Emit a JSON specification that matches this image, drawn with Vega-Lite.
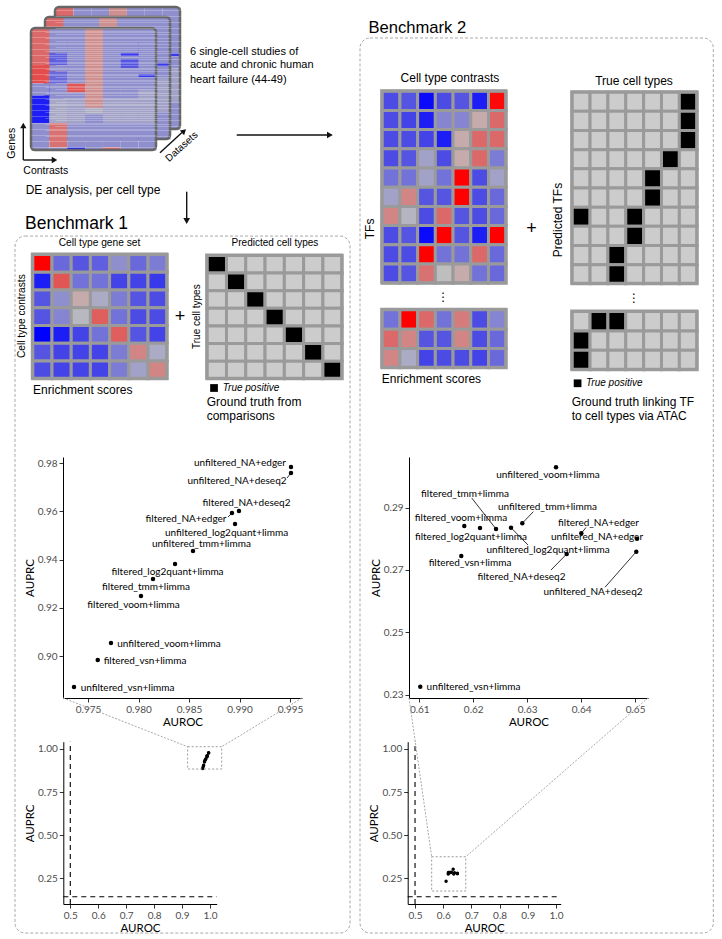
{
  "$schema": "https://vega.github.io/schema/vega-lite/v6.json",
  "width": 722,
  "height": 939,
  "padding": 0,
  "autosize": {"type": "none"},
  "background": "white",
  "config": {
    "view": {"stroke": null},
    "text": {"font": "Liberation Sans", "fontSize": 11, "color": "#000", "baseline": "middle", "align": "center"},
    "axis": {"grid": false, "labelFont": "Lato", "labelFontSize": 10, "labelColor": "#4d4d4d", "titleFont": "Lato", "titleFontSize": 11.5, "titleFontWeight": "normal", "titleColor": "#000", "domainColor": "#000", "domainWidth": 1, "tickColor": "#333", "tickSize": 4, "labelFlush": false, "labelOverlap": false, "labelPadding": 2}
  },
  "datasets": {
    "illus": [
      {"c": 0, "r0": [0, 12, 18, 22, 31], "r1": [12, 18, 22, 31, 40], "v": [0.45, 0.6, -0.25, -0.85, -0.25]},
      {"c": 1, "r0": [0, 8, 12, 14, 18, 23, 31, 39], "r1": [8, 12, 14, 18, 23, 31, 39, 40], "v": [-0.25, -0.5, -0.25, -0.45, -0.25, -0.12, 0.4, -0.25]},
      {"c": 2, "r0": [0, 18, 21, 23, 31, 39], "r1": [18, 21, 23, 31, 39, 40], "v": [-0.25, 0.55, -0.25, -0.15, -0.25, -0.85]},
      {"c": 3, "r0": [0, 26, 28], "r1": [26, 28, 40], "v": [0.25, -0.08, -0.25]},
      {"c": 4, "r0": [0, 23, 31, 39], "r1": [23, 31, 39, 40], "v": [-0.25, -0.15, -0.25, 0.45]},
      {"c": 5, "r0": [0, 8, 9, 10, 13, 23, 31], "r1": [8, 9, 10, 13, 23, 31, 40], "v": [-0.25, -0.7, -0.25, -0.55, -0.25, -0.15, -0.25]},
      {"c": 6, "r0": [0, 15, 16, 20, 31], "r1": [15, 16, 20, 31, 40], "v": [-0.25, -0.7, -0.25, -0.15, -0.25]}
    ],
    "b1": [
      {"r": 0, "c": [0, 1, 2, 3, 4, 5, 6], "v": [1.0, -0.45, -0.55, -0.5, -0.25, -0.45, -0.35]},
      {"r": 1, "c": [0, 1, 2, 3, 4, 5, 6], "v": [-0.85, 0.55, -0.4, -0.4, -0.65, -0.65, -0.7]},
      {"r": 2, "c": [0, 1, 2, 3, 4, 5, 6], "v": [-0.55, -0.25, 0.1, -0.1, -0.35, -0.55, -0.6]},
      {"r": 3, "c": [0, 1, 2, 3, 4, 5, 6], "v": [-0.55, -0.3, -0.03, 0.5, -0.4, -0.6, -0.6]},
      {"r": 4, "c": [0, 1, 2, 3, 4, 5, 6], "v": [-1.0, -0.85, -0.65, -0.4, 0.5, -0.55, -0.65]},
      {"r": 5, "c": [0, 1, 2, 3, 4, 5, 6], "v": [-0.55, -0.65, -0.65, -0.65, -0.35, 0.3, -0.1]},
      {"r": 6, "c": [0, 1, 2, 3, 4, 5, 6], "v": [-0.6, -0.65, -0.65, -0.65, -0.35, -0.15, 0.3]}
    ],
    "b1g": [
      {"r": 0, "c": [0, 1, 2, 3, 4, 5, 6], "t": [1, 0, 0, 0, 0, 0, 0]},
      {"r": 1, "c": [0, 1, 2, 3, 4, 5, 6], "t": [0, 1, 0, 0, 0, 0, 0]},
      {"r": 2, "c": [0, 1, 2, 3, 4, 5, 6], "t": [0, 0, 1, 0, 0, 0, 0]},
      {"r": 3, "c": [0, 1, 2, 3, 4, 5, 6], "t": [0, 0, 0, 1, 0, 0, 0]},
      {"r": 4, "c": [0, 1, 2, 3, 4, 5, 6], "t": [0, 0, 0, 0, 1, 0, 0]},
      {"r": 5, "c": [0, 1, 2, 3, 4, 5, 6], "t": [0, 0, 0, 0, 0, 1, 0]},
      {"r": 6, "c": [0, 1, 2, 3, 4, 5, 6], "t": [0, 0, 0, 0, 0, 0, 1]}
    ],
    "b2": [
      {"r": 0, "c": [0, 1, 2, 3, 4, 5, 6], "v": [-0.6, -0.55, -0.95, -0.6, -0.55, -0.85, 0.95]},
      {"r": 1, "c": [0, 1, 2, 3, 4, 5, 6], "v": [-0.6, -0.65, -0.85, -0.3, -0.3, 0.1, 0.45]},
      {"r": 2, "c": [0, 1, 2, 3, 4, 5, 6], "v": [-0.6, -0.6, -0.65, -0.85, 0.1, 0.45, 0.45]},
      {"r": 3, "c": [0, 1, 2, 3, 4, 5, 6], "v": [-0.6, -0.55, -0.15, -0.6, 0.1, 0.45, -0.35]},
      {"r": 4, "c": [0, 1, 2, 3, 4, 5, 6], "v": [-0.4, -0.4, -0.15, -0.4, 1.0, -0.6, -0.15]},
      {"r": 5, "c": [0, 1, 2, 3, 4, 5, 6], "v": [-0.15, 0.3, -0.55, -0.55, 1.0, -0.6, -0.45]},
      {"r": 6, "c": [0, 1, 2, 3, 4, 5, 6], "v": [0.3, -0.05, -0.6, 0.45, -0.55, -0.6, -0.45]},
      {"r": 7, "c": [0, 1, 2, 3, 4, 5, 6], "v": [-0.6, -0.55, -0.95, 1.0, -0.55, -0.85, 1.0]},
      {"r": 8, "c": [0, 1, 2, 3, 4, 5, 6], "v": [-0.6, -0.6, 1.0, -0.4, -0.4, 0.45, -0.45]},
      {"r": 9, "c": [0, 1, 2, 3, 4, 5, 6], "v": [-0.6, -0.55, 0.4, 0.0, 0.1, -0.4, -0.45]}
    ],
    "b2l": [
      {"r": 0, "c": [0, 1, 2, 3, 4, 5, 6], "v": [-0.4, 1.0, 0.45, -0.4, 0.35, -0.6, -0.3]},
      {"r": 1, "c": [0, 1, 2, 3, 4, 5, 6], "v": [0.45, 0.3, -0.55, -0.55, 0.3, -0.6, -0.45]},
      {"r": 2, "c": [0, 1, 2, 3, 4, 5, 6], "v": [0.3, -0.1, -0.65, -0.6, -0.6, -0.65, -0.45]}
    ],
    "b2g": [
      {"r": 0, "c": [0, 1, 2, 3, 4, 5, 6], "t": [0, 0, 0, 0, 0, 0, 1]},
      {"r": 1, "c": [0, 1, 2, 3, 4, 5, 6], "t": [0, 0, 0, 0, 0, 0, 1]},
      {"r": 2, "c": [0, 1, 2, 3, 4, 5, 6], "t": [0, 0, 0, 0, 0, 0, 1]},
      {"r": 3, "c": [0, 1, 2, 3, 4, 5, 6], "t": [0, 0, 0, 0, 0, 1, 0]},
      {"r": 4, "c": [0, 1, 2, 3, 4, 5, 6], "t": [0, 0, 0, 0, 1, 0, 0]},
      {"r": 5, "c": [0, 1, 2, 3, 4, 5, 6], "t": [0, 0, 0, 0, 1, 0, 0]},
      {"r": 6, "c": [0, 1, 2, 3, 4, 5, 6], "t": [1, 0, 0, 1, 0, 0, 0]},
      {"r": 7, "c": [0, 1, 2, 3, 4, 5, 6], "t": [0, 0, 0, 1, 0, 0, 0]},
      {"r": 8, "c": [0, 1, 2, 3, 4, 5, 6], "t": [0, 0, 1, 0, 0, 0, 0]},
      {"r": 9, "c": [0, 1, 2, 3, 4, 5, 6], "t": [0, 0, 1, 0, 0, 0, 0]}
    ],
    "b2lg": [
      {"r": 0, "c": [0, 1, 2, 3, 4, 5, 6], "t": [0, 1, 1, 0, 0, 0, 0]},
      {"r": 1, "c": [0, 1, 2, 3, 4, 5, 6], "t": [1, 0, 0, 0, 0, 0, 0]},
      {"r": 2, "c": [0, 1, 2, 3, 4, 5, 6], "t": [1, 0, 0, 0, 0, 0, 0]}
    ],
    "s1": [
      {"n": "unfiltered_NA+edger", "x": 0.99509, "y": 0.97835, "lx": 0.99004, "ly": 0.9800},
      {"n": "unfiltered_NA+deseq2", "x": 0.99509, "y": 0.97587, "lx": 0.98975, "ly": 0.9725, "sx": 0.9947, "sy": 0.9738},
      {"n": "filtered_NA+deseq2", "x": 0.98994, "y": 0.96011, "lx": 0.99069, "ly": 0.9634},
      {"n": "filtered_NA+edger", "x": 0.98925, "y": 0.95928, "lx": 0.98470, "ly": 0.9568, "sx": 0.98886, "sy": 0.95763},
      {"n": "unfiltered_log2quant+limma", "x": 0.98955, "y": 0.95472, "lx": 0.98871, "ly": 0.9512},
      {"n": "unfiltered_tmm+limma", "x": 0.98539, "y": 0.94353, "lx": 0.98623, "ly": 0.9465},
      {"n": "filtered_log2quant+limma", "x": 0.98361, "y": 0.93814, "lx": 0.98287, "ly": 0.9348},
      {"n": "filtered_tmm+limma", "x": 0.98143, "y": 0.93193, "lx": 0.98074, "ly": 0.9286},
      {"n": "filtered_voom+limma", "x": 0.98024, "y": 0.92488, "lx": 0.97950, "ly": 0.9211},
      {"n": "unfiltered_voom+limma", "x": 0.97727, "y": 0.90540, "lx": 0.98301, "ly": 0.9050},
      {"n": "filtered_vsn+limma", "x": 0.97596, "y": 0.89835, "lx": 0.98064, "ly": 0.8979},
      {"n": "unfiltered_vsn+limma", "x": 0.97361, "y": 0.88716, "lx": 0.97891, "ly": 0.8867}
    ],
    "s2": [
      {"n": "unfiltered_voom+limma", "x": 0.63535, "y": 0.30290, "lx": 0.63387, "ly": 0.30033},
      {"n": "filtered_tmm+limma", "x": 0.62423, "y": 0.28311, "lx": 0.61848, "ly": 0.29433, "sx": 0.61972, "sy": 0.29305},
      {"n": "unfiltered_tmm+limma", "x": 0.62910, "y": 0.28494, "lx": 0.63377, "ly": 0.29026, "sx": 0.63114, "sy": 0.28866},
      {"n": "filtered_voom+limma", "x": 0.61835, "y": 0.28407, "lx": 0.61774, "ly": 0.28673},
      {"n": "filtered_NA+edger", "x": 0.64004, "y": 0.28173, "lx": 0.64323, "ly": 0.28503, "sx": 0.64091, "sy": 0.28359},
      {"n": "filtered_log2quant+limma", "x": 0.62126, "y": 0.28343, "lx": 0.61959, "ly": 0.28064},
      {"n": "unfiltered_NA+edger", "x": 0.65036, "y": 0.28000, "lx": 0.64295, "ly": 0.28054},
      {"n": "unfiltered_log2quant+limma", "x": 0.62701, "y": 0.28352, "lx": 0.63387, "ly": 0.27637, "sx": 0.63016, "sy": 0.27797},
      {"n": "filtered_vsn+limma", "x": 0.61779, "y": 0.27445, "lx": 0.61941, "ly": 0.27220},
      {"n": "filtered_NA+deseq2", "x": 0.63733, "y": 0.27509, "lx": 0.62895, "ly": 0.26781, "sx": 0.63442, "sy": 0.26995},
      {"n": "unfiltered_NA+deseq2", "x": 0.65023, "y": 0.27583, "lx": 0.64221, "ly": 0.26280, "sx": 0.64443, "sy": 0.26441},
      {"n": "unfiltered_vsn+limma", "x": 0.61019, "y": 0.23252, "lx": 0.62006, "ly": 0.23227}
    ]
  },
  "resolve": {"scale": {"x": "independent", "y": "independent"}},
  "layer": [
    {
      "data": {"values": [{}]},
      "layer": [
        {"data": {"name": "illus"}, "transform": [{"flatten": ["r0", "r1", "v"]}],
         "mark": {"type": "rect", "binSpacing": 0},
         "encoding": {
           "x": {"field": "c", "type": "quantitative", "bin": {"binned": true, "step": 1}, "scale": {"domain": [0, 7], "range": [55, 180], "nice": false, "zero": false}, "axis": null},
           "y": {"field": "r0", "type": "quantitative", "bin": {"binned": true}, "scale": {"domain": [0, 40], "range": [7, 129], "nice": false, "zero": false},
                 "axis": {"orient": "left", "values": [1, 2, 3, 4, 5, 6, 7, 8, 9, 10, 11, 12, 13, 14, 15, 16, 17, 18, 19, 20, 21, 22, 23, 24, 25, 26, 27, 28, 29, 30, 31, 32, 33, 34, 35, 36, 37, 38, 39], "labels": false, "ticks": false, "domain": false, "grid": true, "gridColor": "#ffffff", "gridOpacity": 0.3, "gridWidth": 0.8, "zindex": 1, "title": null}},
           "y2": {"field": "r1"},
           "fill": {"field": "v", "type": "quantitative", "scale": {"domain": [-1, 0, 1], "range": ["#0000ff", "#bebebe", "#ff0000"], "interpolate": "rgb"}, "legend": null}
         }},
        {"mark": {"type": "rect", "fillOpacity": 0, "stroke": "#666666", "strokeWidth": 2.5, "cornerRadius": 4},
         "encoding": {"x": {"datum": 0, "axis": null}, "x2": {"datum": 7}, "y": {"datum": 0}, "y2": {"datum": 40}}}
      ]
    },
    {
      "data": {"values": [{}]},
      "layer": [
        {"data": {"name": "illus"}, "transform": [{"flatten": ["r0", "r1", "v"]}],
         "mark": {"type": "rect", "binSpacing": 0},
         "encoding": {
           "x": {"field": "c", "type": "quantitative", "bin": {"binned": true, "step": 1}, "scale": {"domain": [0, 7], "range": [45, 170], "nice": false, "zero": false}, "axis": null},
           "y": {"field": "r0", "type": "quantitative", "bin": {"binned": true}, "scale": {"domain": [0, 40], "range": [17, 139], "nice": false, "zero": false},
                 "axis": {"orient": "left", "values": [1, 2, 3, 4, 5, 6, 7, 8, 9, 10, 11, 12, 13, 14, 15, 16, 17, 18, 19, 20, 21, 22, 23, 24, 25, 26, 27, 28, 29, 30, 31, 32, 33, 34, 35, 36, 37, 38, 39], "labels": false, "ticks": false, "domain": false, "grid": true, "gridColor": "#ffffff", "gridOpacity": 0.3, "gridWidth": 0.8, "zindex": 1, "title": null}},
           "y2": {"field": "r1"},
           "fill": {"field": "v", "type": "quantitative", "scale": {"domain": [-1, 0, 1], "range": ["#0000ff", "#bebebe", "#ff0000"], "interpolate": "rgb"}, "legend": null}
         }},
        {"mark": {"type": "rect", "fillOpacity": 0, "stroke": "#666666", "strokeWidth": 2.5, "cornerRadius": 4},
         "encoding": {"x": {"datum": 0, "axis": null}, "x2": {"datum": 7}, "y": {"datum": 0}, "y2": {"datum": 40}}}
      ]
    },
    {
      "data": {"values": [{}]},
      "layer": [
        {"data": {"name": "illus"}, "transform": [{"flatten": ["r0", "r1", "v"]}],
         "mark": {"type": "rect", "binSpacing": 0},
         "encoding": {
           "x": {"field": "c", "type": "quantitative", "bin": {"binned": true, "step": 1}, "scale": {"domain": [0, 7], "range": [31, 156], "nice": false, "zero": false}, "axis": null},
           "y": {"field": "r0", "type": "quantitative", "bin": {"binned": true}, "scale": {"domain": [0, 40], "range": [28, 150], "nice": false, "zero": false},
                 "axis": {"orient": "left", "values": [1, 2, 3, 4, 5, 6, 7, 8, 9, 10, 11, 12, 13, 14, 15, 16, 17, 18, 19, 20, 21, 22, 23, 24, 25, 26, 27, 28, 29, 30, 31, 32, 33, 34, 35, 36, 37, 38, 39], "labels": false, "ticks": false, "domain": false, "grid": true, "gridColor": "#ffffff", "gridOpacity": 0.3, "gridWidth": 0.8, "zindex": 1, "title": null}},
           "y2": {"field": "r1"},
           "fill": {"field": "v", "type": "quantitative", "scale": {"domain": [-1, 0, 1], "range": ["#0000ff", "#bebebe", "#ff0000"], "interpolate": "rgb"}, "legend": null}
         }},
        {"mark": {"type": "rect", "fillOpacity": 0, "stroke": "#666666", "strokeWidth": 2.5, "cornerRadius": 4},
         "encoding": {"x": {"datum": 0, "axis": null}, "x2": {"datum": 7}, "y": {"datum": 0}, "y2": {"datum": 40}}},
        {"mark": {"type": "text", "align": "left", "fontSize": 11},
         "encoding": {"x": {"datum": 8.904, "axis": null}, "y": {"datum": 7.77}, "text": {"value": "6 single-cell studies of"}}},
        {"mark": {"type": "text", "align": "left", "fontSize": 11},
         "encoding": {"x": {"datum": 8.904, "axis": null}, "y": {"datum": 12.13}, "text": {"value": "acute and chronic human"}}},
        {"mark": {"type": "text", "align": "left", "fontSize": 11},
         "encoding": {"x": {"datum": 8.904, "axis": null}, "y": {"datum": 17.05}, "text": {"value": "heart failure (44-49)"}}},
        {"mark": {"type": "text", "align": "left", "fontSize": 12},
         "encoding": {"x": {"datum": -0.297, "axis": null}, "y": {"datum": 53.11}, "text": {"value": "DE analysis, per cell type"}}},
        {"mark": {"type": "text", "fontSize": 10.5, "angle": 270},
         "encoding": {"x": {"datum": -1.081, "axis": null}, "y": {"datum": 37.8}, "text": {"value": "Genes"}}},
        {"mark": {"type": "text", "align": "left", "fontSize": 10.5},
         "encoding": {"x": {"datum": -0.431, "axis": null}, "y": {"datum": 46.79}, "text": {"value": "Contrasts"}}},
        {"mark": {"type": "text", "fontSize": 10, "angle": 318},
         "encoding": {"x": {"datum": 8.439, "axis": null}, "y": {"datum": 38.92}, "text": {"value": "Datasets"}}},
        {"mark": {"type": "rule", "color": "#111", "strokeWidth": 1.4},
         "encoding": {"x": {"datum": -0.431, "axis": null}, "y": {"datum": 43.28}, "y2": {"datum": 32.46}}},
        {"mark": {"type": "rule", "color": "#111", "strokeWidth": 1.4},
         "encoding": {"x": {"datum": -0.431, "axis": null}, "x2": {"datum": 1.232}, "y": {"datum": 43.28}}},
        {"mark": {"type": "rule", "color": "#111", "strokeWidth": 1.4},
         "encoding": {"x": {"datum": 7.224, "axis": null}, "x2": {"datum": 8.456}, "y": {"datum": 40.89}, "y2": {"datum": 34.26}}},
        {"mark": {"type": "rule", "color": "#111", "strokeWidth": 1.4},
         "encoding": {"x": {"datum": 11.52, "axis": null}, "x2": {"datum": 16.63}, "y": {"datum": 35.08}}},
        {"mark": {"type": "rule", "color": "#111", "strokeWidth": 1.4},
         "encoding": {"x": {"datum": 8.719, "axis": null}, "y": {"datum": 53.67}, "y2": {"datum": 62.62}}},
        {"mark": {"type": "point", "shape": "triangle-up", "filled": true, "size": 40, "color": "#111", "opacity": 1},
         "encoding": {"x": {"datum": -0.431, "axis": null}, "y": {"datum": 31.97}}},
        {"mark": {"type": "point", "shape": "triangle-right", "filled": true, "size": 40, "color": "#111", "opacity": 1},
         "encoding": {"x": {"datum": 1.316, "axis": null}, "y": {"datum": 43.28}}},
        {"mark": {"type": "point", "shape": "triangle-up", "filled": true, "size": 40, "color": "#111", "opacity": 1, "angle": 48},
         "encoding": {"x": {"datum": 8.568, "axis": null}, "y": {"datum": 33.77}}},
        {"mark": {"type": "point", "shape": "triangle-right", "filled": true, "size": 45, "color": "#111", "opacity": 1},
         "encoding": {"x": {"datum": 16.74, "axis": null}, "y": {"datum": 35.08}}},
        {"mark": {"type": "point", "shape": "triangle-down", "filled": true, "size": 45, "color": "#111", "opacity": 1},
         "encoding": {"x": {"datum": 8.719, "axis": null}, "y": {"datum": 63.28}}}
      ]
    },
    {
      "data": {"values": [{}]},
      "layer": [
        {"data": {"name": "b1"}, "transform": [{"flatten": ["c", "v"]}],
         "mark": {"type": "rect", "stroke": "#9a9a9a", "strokeWidth": 3, "binSpacing": 0},
         "encoding": {
           "x": {"field": "c", "type": "quantitative", "bin": {"binned": true, "step": 1}, "scale": {"domain": [0, 7], "range": [32.3, 166.7], "nice": false, "zero": false}, "axis": null},
           "y": {"field": "r", "type": "quantitative", "bin": {"binned": true, "step": 1}, "scale": {"domain": [0, 7], "range": [254, 378.3], "nice": false, "zero": false}, "axis": null},
           "fill": {"field": "v", "type": "quantitative", "scale": {"domain": [-1, 0, 1], "range": ["#0000ff", "#bebebe", "#ff0000"], "interpolate": "rgb"}, "legend": null}
         }},
        {"mark": {"type": "rect", "fillOpacity": 0, "stroke": "#9a9a9a", "strokeWidth": 3},
         "encoding": {"x": {"datum": 0, "axis": null}, "x2": {"datum": 7}, "y": {"datum": 0, "axis": null}, "y2": {"datum": 7}}},
        {"mark": {"type": "rect", "fillOpacity": 0, "stroke": "#a8a8a8", "strokeWidth": 1, "strokeDash": [3, 2], "cornerRadius": 10},
         "encoding": {"x": {"datum": -0.9, "axis": null}, "x2": {"datum": 16.55}, "y": {"datum": -1.01, "axis": null}, "y2": {"datum": 38.24}}},
        {"mark": {"type": "text", "fontSize": 10.2},
         "encoding": {"x": {"datum": 3.5, "axis": null}, "y": {"datum": -0.6, "axis": null}, "text": {"value": "Cell type gene set"}}},
        {"mark": {"type": "text", "fontSize": 10.2, "angle": 270},
         "encoding": {"x": {"datum": -0.56, "axis": null}, "y": {"datum": 3.5, "axis": null}, "text": {"value": "Cell type contrasts"}}},
        {"mark": {"type": "text", "fontSize": 12, "align": "left"},
         "encoding": {"x": {"datum": 0.04, "axis": null}, "y": {"datum": 7.66, "axis": null}, "text": {"value": "Enrichment scores"}}},
        {"mark": {"type": "text", "fontSize": 17.5, "align": "left"},
         "encoding": {"x": {"datum": -0.38, "axis": null}, "y": {"datum": -1.69, "axis": null}, "text": {"value": "Benchmark 1"}}},
        {"mark": {"type": "text", "fontSize": 18},
         "encoding": {"x": {"datum": 7.69, "axis": null}, "y": {"datum": 3.57, "axis": null}, "text": {"value": "+"}}}
      ]
    },
    {
      "data": {"values": [{}]},
      "layer": [
        {"data": {"name": "b1g"}, "transform": [{"flatten": ["c", "t"]}],
         "mark": {"type": "rect", "stroke": "#9a9a9a", "strokeWidth": 3, "binSpacing": 0},
         "encoding": {
           "x": {"field": "c", "type": "quantitative", "bin": {"binned": true, "step": 1}, "scale": {"domain": [0, 7], "range": [206.7, 341.7], "nice": false, "zero": false}, "axis": null},
           "y": {"field": "r", "type": "quantitative", "bin": {"binned": true, "step": 1}, "scale": {"domain": [0, 7], "range": [255, 378.3], "nice": false, "zero": false}, "axis": null},
           "fill": {"condition": {"test": "datum.t == 1", "value": "#000000"}, "value": "#cccccc"}
         }},
        {"mark": {"type": "rect", "fillOpacity": 0, "stroke": "#9a9a9a", "strokeWidth": 3},
         "encoding": {"x": {"datum": 0, "axis": null}, "x2": {"datum": 7}, "y": {"datum": 0, "axis": null}, "y2": {"datum": 7}}},
        {"mark": {"type": "text", "fontSize": 10},
         "encoding": {"x": {"datum": 3.54, "axis": null}, "y": {"datum": -0.68, "axis": null}, "text": {"value": "Predicted cell types"}}},
        {"mark": {"type": "text", "fontSize": 10, "angle": 270},
         "encoding": {"x": {"datum": -0.52, "axis": null}, "y": {"datum": 3.5, "axis": null}, "text": {"value": "True cell types"}}},
        {"mark": {"type": "point", "shape": "square", "filled": true, "size": 60, "color": "#000", "opacity": 1},
         "encoding": {"x": {"datum": 0.38, "axis": null}, "y": {"datum": 7.55, "axis": null}}},
        {"mark": {"type": "text", "fontSize": 10, "fontStyle": "italic", "align": "left"},
         "encoding": {"x": {"datum": 0.83, "axis": null}, "y": {"datum": 7.55, "axis": null}, "text": {"value": "True positive"}}},
        {"mark": {"type": "text", "fontSize": 12, "align": "left"},
         "encoding": {"x": {"datum": 0, "axis": null}, "y": {"datum": 8.33, "axis": null}, "text": {"value": "Ground truth from"}}},
        {"mark": {"type": "text", "fontSize": 12, "align": "left"},
         "encoding": {"x": {"datum": 0, "axis": null}, "y": {"datum": 9.14, "axis": null}, "text": {"value": "comparisons"}}}
      ]
    },
    {
      "data": {"values": [{}]},
      "layer": [
        {"data": {"name": "b2"}, "transform": [{"flatten": ["c", "v"]}],
         "mark": {"type": "rect", "stroke": "#9a9a9a", "strokeWidth": 3, "binSpacing": 0},
         "encoding": {
           "x": {"field": "c", "type": "quantitative", "bin": {"binned": true, "step": 1}, "scale": {"domain": [0, 7], "range": [381.7, 505.7], "nice": false, "zero": false}, "axis": null},
           "y": {"field": "r", "type": "quantitative", "bin": {"binned": true, "step": 1}, "scale": {"domain": [0, 10], "range": [90.7, 282.7], "nice": false, "zero": false}, "axis": null},
           "fill": {"field": "v", "type": "quantitative", "scale": {"domain": [-1, 0, 1], "range": ["#0000ff", "#bebebe", "#ff0000"], "interpolate": "rgb"}, "legend": null}
         }},
        {"mark": {"type": "rect", "fillOpacity": 0, "stroke": "#9a9a9a", "strokeWidth": 3},
         "encoding": {"x": {"datum": 0, "axis": null}, "x2": {"datum": 7}, "y": {"datum": 0, "axis": null}, "y2": {"datum": 10}}},
        {"mark": {"type": "rect", "fillOpacity": 0, "stroke": "#a8a8a8", "strokeWidth": 1, "strokeDash": [3, 2], "cornerRadius": 10},
         "encoding": {"x": {"datum": -1.225, "axis": null}, "x2": {"datum": 18.72}, "y": {"datum": -2.745, "axis": null}, "y2": {"datum": 43.87}}},
        {"mark": {"type": "text", "fontSize": 12},
         "encoding": {"x": {"datum": 3.85, "axis": null}, "y": {"datum": -0.68, "axis": null}, "text": {"value": "Cell type contrasts"}}},
        {"mark": {"type": "text", "fontSize": 12, "angle": 270},
         "encoding": {"x": {"datum": -0.66, "axis": null}, "y": {"datum": 7.2, "axis": null}, "text": {"value": "TFs"}}},
        {"mark": {"type": "text", "fontSize": 12, "font": "DejaVu Sans"},
         "encoding": {"x": {"datum": 3.48, "axis": null}, "y": {"datum": 10.73, "axis": null}, "text": {"value": "⋮"}}},
        {"mark": {"type": "text", "fontSize": 16.6, "align": "left"},
         "encoding": {"x": {"datum": -0.751, "axis": null}, "y": {"datum": -3.25, "axis": null}, "text": {"value": "Benchmark 2"}}},
        {"mark": {"type": "text", "fontSize": 18},
         "encoding": {"x": {"datum": 8.46, "axis": null}, "y": {"datum": 7.22, "axis": null}, "text": {"value": "+"}}}
      ]
    },
    {
      "data": {"values": [{}]},
      "layer": [
        {"data": {"name": "b2l"}, "transform": [{"flatten": ["c", "v"]}],
         "mark": {"type": "rect", "stroke": "#9a9a9a", "strokeWidth": 3, "binSpacing": 0},
         "encoding": {
           "x": {"field": "c", "type": "quantitative", "bin": {"binned": true, "step": 1}, "scale": {"domain": [0, 7], "range": [381.7, 505.7], "nice": false, "zero": false}, "axis": null},
           "y": {"field": "r", "type": "quantitative", "bin": {"binned": true, "step": 1}, "scale": {"domain": [0, 3], "range": [309.3, 367.3], "nice": false, "zero": false}, "axis": null},
           "fill": {"field": "v", "type": "quantitative", "scale": {"domain": [-1, 0, 1], "range": ["#0000ff", "#bebebe", "#ff0000"], "interpolate": "rgb"}, "legend": null}
         }},
        {"mark": {"type": "rect", "fillOpacity": 0, "stroke": "#9a9a9a", "strokeWidth": 3},
         "encoding": {"x": {"datum": 0, "axis": null}, "x2": {"datum": 7}, "y": {"datum": 0, "axis": null}, "y2": {"datum": 3}}},
        {"mark": {"type": "text", "fontSize": 12, "align": "left"},
         "encoding": {"x": {"datum": 0, "axis": null}, "y": {"datum": 3.62, "axis": null}, "text": {"value": "Enrichment scores"}}}
      ]
    },
    {
      "data": {"values": [{}]},
      "layer": [
        {"data": {"name": "b2g"}, "transform": [{"flatten": ["c", "t"]}],
         "mark": {"type": "rect", "stroke": "#9a9a9a", "strokeWidth": 3, "binSpacing": 0},
         "encoding": {
           "x": {"field": "c", "type": "quantitative", "bin": {"binned": true, "step": 1}, "scale": {"domain": [0, 7], "range": [571.7, 696.7], "nice": false, "zero": false}, "axis": null},
           "y": {"field": "r", "type": "quantitative", "bin": {"binned": true, "step": 1}, "scale": {"domain": [0, 10], "range": [91.7, 283.3], "nice": false, "zero": false}, "axis": null},
           "fill": {"condition": {"test": "datum.t == 1", "value": "#000000"}, "value": "#cccccc"}
         }},
        {"mark": {"type": "rect", "fillOpacity": 0, "stroke": "#9a9a9a", "strokeWidth": 3},
         "encoding": {"x": {"datum": 0, "axis": null}, "x2": {"datum": 7}, "y": {"datum": 0, "axis": null}, "y2": {"datum": 10}}},
        {"mark": {"type": "text", "fontSize": 12},
         "encoding": {"x": {"datum": 3.49, "axis": null}, "y": {"datum": -0.56, "axis": null}, "text": {"value": "True cell types"}}},
        {"mark": {"type": "text", "fontSize": 12, "angle": 270},
         "encoding": {"x": {"datum": -0.77, "axis": null}, "y": {"datum": 6.7, "axis": null}, "text": {"value": "Predicted TFs"}}},
        {"mark": {"type": "text", "fontSize": 12, "font": "DejaVu Sans"},
         "encoding": {"x": {"datum": 3.49, "axis": null}, "y": {"datum": 10.77, "axis": null}, "text": {"value": "⋮"}}}
      ]
    },
    {
      "data": {"values": [{}]},
      "layer": [
        {"data": {"name": "b2lg"}, "transform": [{"flatten": ["c", "t"]}],
         "mark": {"type": "rect", "stroke": "#9a9a9a", "strokeWidth": 3, "binSpacing": 0},
         "encoding": {
           "x": {"field": "c", "type": "quantitative", "bin": {"binned": true, "step": 1}, "scale": {"domain": [0, 7], "range": [571.7, 696.7], "nice": false, "zero": false}, "axis": null},
           "y": {"field": "r", "type": "quantitative", "bin": {"binned": true, "step": 1}, "scale": {"domain": [0, 3], "range": [311, 369.3], "nice": false, "zero": false}, "axis": null},
           "fill": {"condition": {"test": "datum.t == 1", "value": "#000000"}, "value": "#cccccc"}
         }},
        {"mark": {"type": "rect", "fillOpacity": 0, "stroke": "#9a9a9a", "strokeWidth": 3},
         "encoding": {"x": {"datum": 0, "axis": null}, "x2": {"datum": 7}, "y": {"datum": 0, "axis": null}, "y2": {"datum": 3}}},
        {"mark": {"type": "point", "shape": "square", "filled": true, "size": 60, "color": "#000", "opacity": 1},
         "encoding": {"x": {"datum": 0.33, "axis": null}, "y": {"datum": 3.72, "axis": null}}},
        {"mark": {"type": "text", "fontSize": 10, "fontStyle": "italic", "align": "left"},
         "encoding": {"x": {"datum": 0.8, "axis": null}, "y": {"datum": 3.72, "axis": null}, "text": {"value": "True positive"}}},
        {"mark": {"type": "text", "fontSize": 12, "align": "left"},
         "encoding": {"x": {"datum": 0, "axis": null}, "y": {"datum": 4.67, "axis": null}, "text": {"value": "Ground truth linking TF"}}},
        {"mark": {"type": "text", "fontSize": 12, "align": "left"},
         "encoding": {"x": {"datum": 0, "axis": null}, "y": {"datum": 5.4, "axis": null}, "text": {"value": "to cell types via ATAC"}}}
      ]
    },
    {
      "data": {"name": "s1"},
      "layer": [
        {"transform": [{"filter": "isValid(datum.sx)"}],
         "mark": {"type": "rule", "color": "#000", "strokeWidth": 0.8},
         "encoding": {"x": {"field": "sx", "type": "quantitative"}, "y": {"field": "sy", "type": "quantitative"}, "x2": {"field": "x"}, "y2": {"field": "y"}}},
        {"mark": {"type": "circle", "size": 20, "color": "#000", "opacity": 1},
         "encoding": {
           "x": {"field": "x", "type": "quantitative", "scale": {"domain": [0.97252, 0.99618], "range": [63, 302], "nice": false, "zero": false},
                 "axis": {"orient": "bottom", "offset": -241, "values": [0.975, 0.98, 0.985, 0.99, 0.995], "format": ".3f", "title": "AUROC", "titlePadding": 2}},
           "y": {"field": "y", "type": "quantitative", "scale": {"domain": [0.8826, 0.9825], "range": [698, 457], "nice": false, "zero": false},
                 "axis": {"orient": "left", "offset": -63, "values": [0.9, 0.92, 0.94, 0.96, 0.98], "format": ".2f", "title": "AUPRC", "titlePadding": 2}}
         }},
        {"mark": {"type": "text", "font": "Lato", "fontSize": 10},
         "encoding": {"x": {"field": "lx", "type": "quantitative"}, "y": {"field": "ly", "type": "quantitative"}, "text": {"field": "n"}}}
      ]
    },
    {
      "data": {"values": [{}]},
      "layer": [
        {"mark": {"type": "rule", "color": "#000", "strokeWidth": 1.1, "strokeDash": [5, 4]},
         "encoding": {"x": {"datum": 0.5}, "y": {"datum": 0.101}, "y2": {"datum": 1.042}}},
        {"mark": {"type": "rule", "color": "#000", "strokeWidth": 1.1, "strokeDash": [5, 4]},
         "encoding": {"x": {"datum": 0.475}, "x2": {"datum": 1.024}, "y": {"datum": 0.1429}}},
        {"data": {"name": "s1"},
         "mark": {"type": "circle", "size": 12, "color": "#000", "opacity": 1},
         "encoding": {
           "x": {"field": "x", "type": "quantitative", "scale": {"domain": [0.475, 1.024], "range": [63.3, 216.7], "nice": false, "zero": false},
                 "axis": {"orient": "bottom", "offset": -35, "values": [0.5, 0.6, 0.7, 0.8, 0.9, 1.0], "format": ".1f", "title": "AUROC", "titlePadding": 2}},
           "y": {"field": "y", "type": "quantitative", "scale": {"domain": [0.101, 1.042], "range": [904, 741.7], "nice": false, "zero": false},
                 "axis": {"orient": "left", "offset": -63.3, "values": [0.25, 0.5, 0.75, 1.0], "format": ".2f", "title": "AUPRC", "titlePadding": 2}}
         }},
        {"mark": {"type": "rect", "fillOpacity": 0, "stroke": "#9a9a9a", "strokeWidth": 1, "strokeDash": [2, 2]},
         "encoding": {"x": {"datum": 0.92}, "x2": {"datum": 1.042}, "y": {"datum": 0.8835}, "y2": {"datum": 1.013}}},
        {"mark": {"type": "rule", "color": "#a8a8a8", "strokeWidth": 1, "strokeDash": [2, 1.5]},
         "encoding": {"x": {"datum": 0.4739}, "x2": {"datum": 0.92}, "y": {"datum": 1.2958}, "y2": {"datum": 1.013}}},
        {"mark": {"type": "rule", "color": "#a8a8a8", "strokeWidth": 1, "strokeDash": [2, 1.5]},
         "encoding": {"x": {"datum": 1.3293}, "x2": {"datum": 1.042}, "y": {"datum": 1.2958}, "y2": {"datum": 1.013}}}
      ]
    },
    {
      "data": {"name": "s2"},
      "layer": [
        {"transform": [{"filter": "isValid(datum.sx)"}],
         "mark": {"type": "rule", "color": "#000", "strokeWidth": 0.8},
         "encoding": {"x": {"field": "sx", "type": "quantitative"}, "y": {"field": "sy", "type": "quantitative"}, "x2": {"field": "x"}, "y2": {"field": "y"}}},
        {"mark": {"type": "circle", "size": 20, "color": "#000", "opacity": 1},
         "encoding": {
           "x": {"field": "x", "type": "quantitative", "scale": {"domain": [0.6081, 0.6524], "range": [409, 648], "nice": false, "zero": false},
                 "axis": {"orient": "bottom", "offset": -241, "values": [0.61, 0.62, 0.63, 0.64, 0.65], "format": ".2f", "title": "AUROC", "titlePadding": 2}},
           "y": {"field": "y", "type": "quantitative", "scale": {"domain": [0.2289, 0.3062], "range": [698, 457], "nice": false, "zero": false},
                 "axis": {"orient": "left", "offset": -409, "values": [0.23, 0.25, 0.27, 0.29], "format": ".2f", "title": "AUPRC", "titlePadding": 2}}
         }},
        {"mark": {"type": "text", "font": "Lato", "fontSize": 10},
         "encoding": {"x": {"field": "lx", "type": "quantitative"}, "y": {"field": "ly", "type": "quantitative"}, "text": {"field": "n"}}}
      ]
    },
    {
      "data": {"values": [{}]},
      "layer": [
        {"mark": {"type": "rule", "color": "#000", "strokeWidth": 1.1, "strokeDash": [5, 4]},
         "encoding": {"x": {"datum": 0.5}, "y": {"datum": 0.101}, "y2": {"datum": 1.042}}},
        {"mark": {"type": "rule", "color": "#000", "strokeWidth": 1.1, "strokeDash": [5, 4]},
         "encoding": {"x": {"datum": 0.474}, "x2": {"datum": 1.0167}, "y": {"datum": 0.1429}}},
        {"data": {"name": "s2"},
         "mark": {"type": "circle", "size": 12, "color": "#000", "opacity": 1},
         "encoding": {
           "x": {"field": "x", "type": "quantitative", "scale": {"domain": [0.474, 1.0167], "range": [407.7, 560.7], "nice": false, "zero": false},
                 "axis": {"orient": "bottom", "offset": -35, "values": [0.5, 0.6, 0.7, 0.8, 0.9, 1.0], "format": ".1f", "title": "AUROC", "titlePadding": 2}},
           "y": {"field": "y", "type": "quantitative", "scale": {"domain": [0.101, 1.042], "range": [904, 741.7], "nice": false, "zero": false},
                 "axis": {"orient": "left", "offset": -407.7, "values": [0.25, 0.5, 0.75, 1.0], "format": ".2f", "title": "AUPRC", "titlePadding": 2}}
         }},
        {"mark": {"type": "rect", "fillOpacity": 0, "stroke": "#9a9a9a", "strokeWidth": 1, "strokeDash": [2, 2]},
         "encoding": {"x": {"datum": 0.559}, "x2": {"datum": 0.68}, "y": {"datum": 0.176}, "y2": {"datum": 0.375}}},
        {"mark": {"type": "rule", "color": "#a8a8a8", "strokeWidth": 1, "strokeDash": [2, 1.5]},
         "encoding": {"x": {"datum": 0.4786}, "x2": {"datum": 0.559}, "y": {"datum": 1.2958}, "y2": {"datum": 0.375}}},
        {"mark": {"type": "rule", "color": "#a8a8a8", "strokeWidth": 1, "strokeDash": [2, 1.5]},
         "encoding": {"x": {"datum": 1.3264}, "x2": {"datum": 0.68}, "y": {"datum": 1.2958}, "y2": {"datum": 0.375}}}
      ]
    }
  ]
}
